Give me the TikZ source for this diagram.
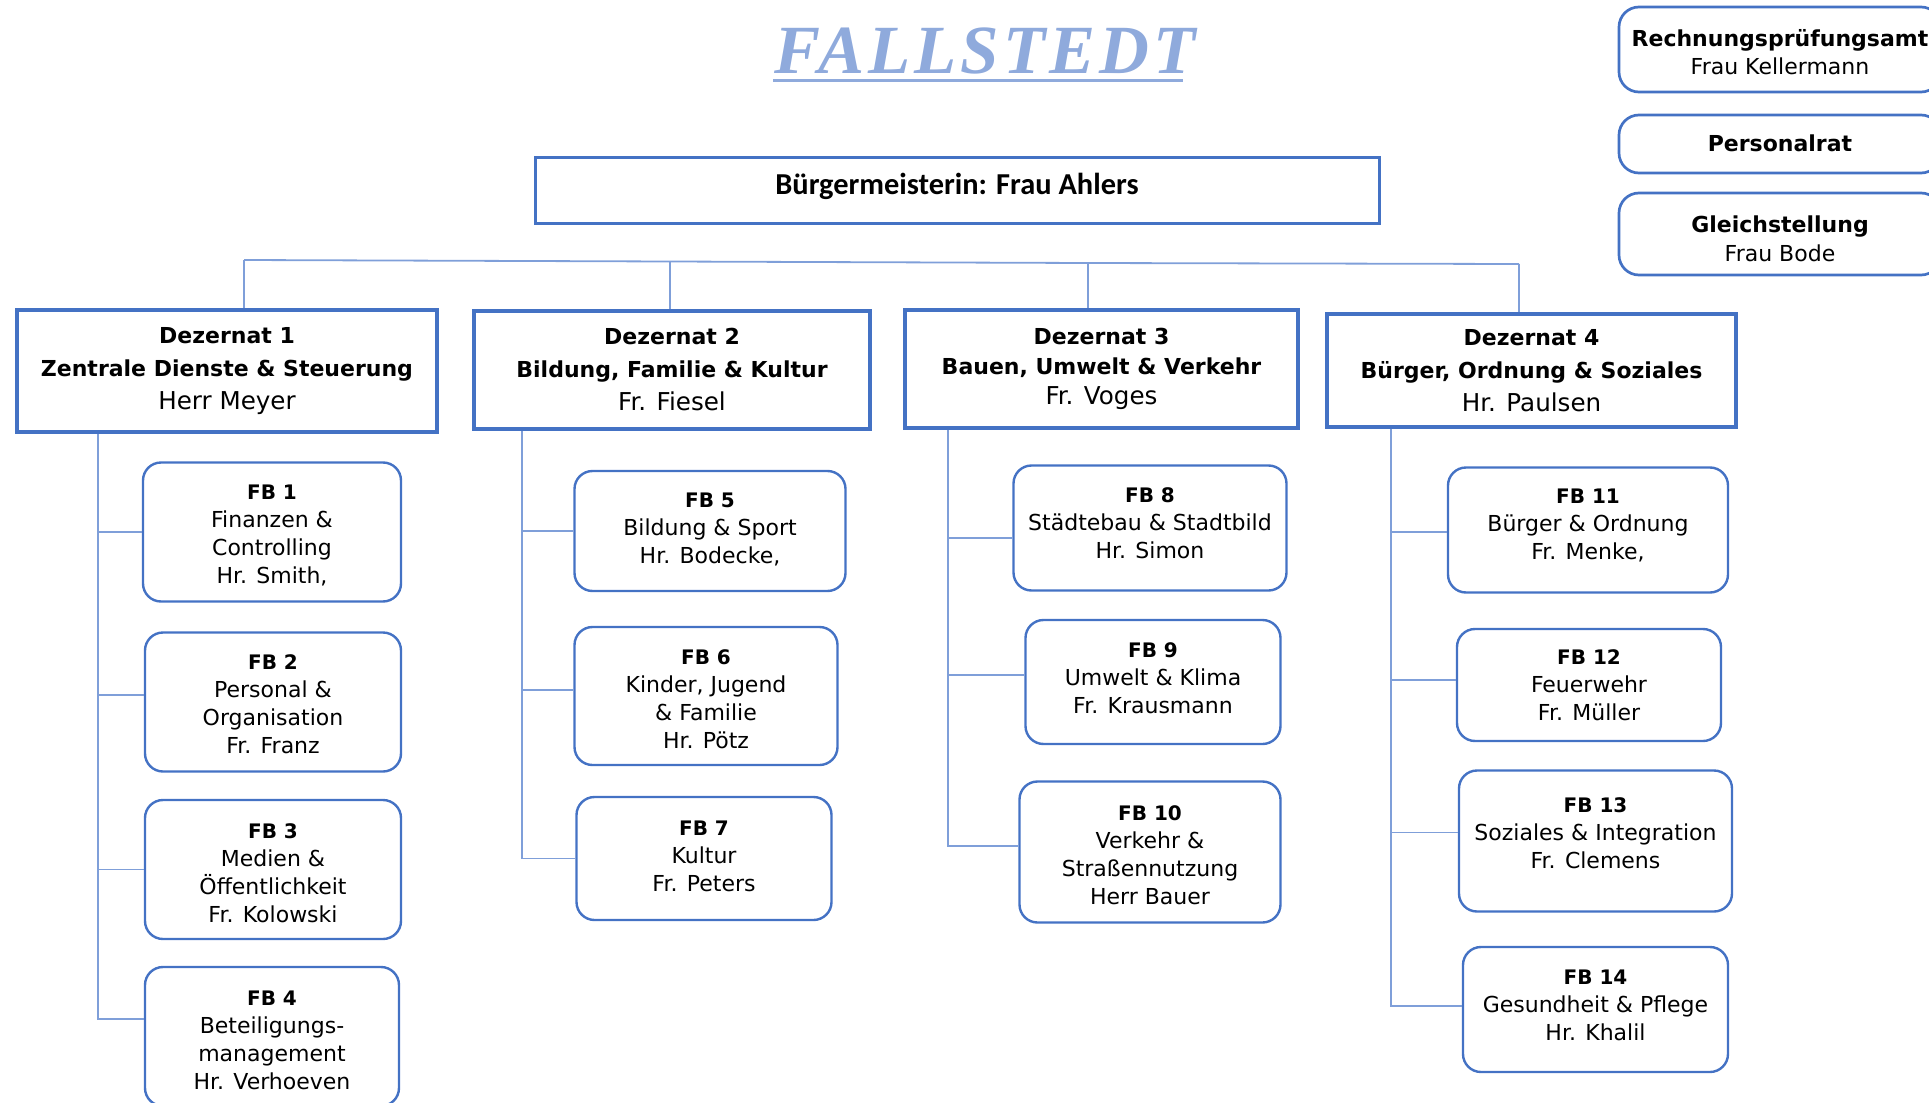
\documentclass[tikz,border=0pt]{standalone}
\usepackage{fontspec}
\setmainfont{DejaVu Sans}
\newfontfamily\calibfont{Carlito}
\newfontfamily\titlefont[LetterSpace=6]{Liberation Serif}
\usetikzlibrary{calc}
\definecolor{boxblue}{HTML}{4472C4}
\definecolor{lineblue}{HTML}{7F9FD9}
\definecolor{titleblue}{HTML}{8FAADC}
\begin{document}
\begin{tikzpicture}[x=0.5pt,y=-0.5pt,
  sz/.style 2 args={minimum width=#1*0.5pt,minimum height=#2*0.5pt},
  dezbox/.style={draw=boxblue,line width=1.75pt,rectangle,align=center,inner sep=0pt,font=\fontsize{11}{16.5}\selectfont},
  fbbox/.style={draw=boxblue,line width=1.2pt,rounded corners=9pt,inner sep=0pt},
  fbtext/.style={align=center,inner sep=0pt,font=\fontsize{11}{14}\selectfont},
  sidebox/.style={draw=boxblue,line width=1.35pt,rounded corners=10pt,inner sep=0pt},
  sidetext/.style={align=center,inner sep=0pt,font=\fontsize{11}{14}\selectfont},
  conn/.style={draw=lineblue,line width=0.9pt},
]
\useasboundingbox (0,0) rectangle (1929,1103);
\newcommand{\fbtitle}[1]{{\fontsize{10}{14}\selectfont\bfseries #1}}
\newcommand{\dname}[1]{{\fontsize{12.3}{16.5}\selectfont #1}}

% title
\node[font=\titlefont\bfseries\itshape\fontsize{34.5}{40}\selectfont,text=titleblue,anchor=base,inner sep=0pt] (title) at (985,73) {FALLSTEDT};
\coordinate (ul1) at (773,80);
\coordinate (ul2) at (1183,80);
\draw[titleblue,line width=1.5pt] (ul1) -- (ul2);

% mayor
\node[draw=boxblue,line width=1.5pt,sz={844}{66},inner sep=0pt] (mayor) at (957,190) {};
\node[inner sep=0pt,font=\calibfont\bfseries\fontsize{15.2}{18}\selectfont] (mayort) at ($(mayor.center)+(0,-3.7)$) {Bürgermeisterin: Frau Ahlers};

% side boxes
\node[sidebox,sz={322}{85}] (rpa) at (1780,49.5) {};
\node[sidetext] (rpat) at ($(rpa.center)+(0,2.5)$) {{\bfseries Rechnungsprüfungsamt}\\Frau Kellermann};
\node[sidebox,sz={322}{58}] (prat) at (1780,144) {};
\node[sidetext] (pratt) at ($(prat.center)+(0,-1.2)$) {\bfseries Personalrat};
\node[sidebox,sz={322}{82}] (gleich) at (1780,234) {};
\node[sidetext,font=\fontsize{11}{14.3}\selectfont] (gleicht) at ($(gleich.center)+(0,5)$) {{\bfseries Gleichstellung}\\Frau Bode};

% Dezernate
\node[dezbox,sz={420}{122}] (d1) at (227,371) {\bfseries Dezernat 1\\\bfseries Zentrale Dienste \& Steuerung\\\dname{Herr Meyer}};
\node[dezbox,sz={396}{118}] (d2) at (672,370) {\bfseries Dezernat 2\\\bfseries Bildung, Familie \& Kultur\\\dname{Fr. Fiesel}};
\node[dezbox,sz={393}{118},font=\fontsize{11}{15}\selectfont] (d3) at (1101.5,369) {\bfseries Dezernat 3\\\bfseries Bauen, Umwelt \& Verkehr\\\dname{Fr. Voges}};
\node[dezbox,sz={409}{113}] (d4) at (1531.5,370.5) {\bfseries Dezernat 4\\\bfseries Bürger, Ordnung \& Soziales\\\dname{Hr. Paulsen}};

% bar
\coordinate (b1) at (244,260);
\coordinate (b2) at (670,261.5);
\coordinate (b3) at (1088,263);
\coordinate (b4) at (1519,264);
\draw[conn] (b1) -- (b2) -- (b3) -- (b4);
\draw[conn] (b1) -- (b1 |- d1.north);
\draw[conn] (b2) -- (b2 |- d2.north);
\draw[conn] (b3) -- (b3 |- d3.north);
\draw[conn] (b4) -- (b4 |- d4.north);

% FB boxes: name/x/y/w/h
\foreach \n/\x/\y/\w/\h in {
  fb1/272/532/258/139, fb2/273/702/256/139, fb3/273/869.5/256/139, fb4/272/1036.5/254/139,
  fb5/710/531/271/120, fb6/706/696/263/138, fb7/704/858.5/255/123,
  fb8/1150/528/273/125, fb9/1153/682/255/124, fb10/1150/852/261/141,
  fb11/1588/530/280/125, fb12/1589/685/264/112, fb13/1595.5/841/273/141, fb14/1595.5/1009.5/265/125}
  \node[fbbox,sz={\w}{\h}] (\n) at (\x,\y) {};

\node[fbtext] (fb1t) at ($(fb1.center)+(0,3.7)$) {\fbtitle{FB 1}\\Finanzen \&\\Controlling\\Hr. Smith,};
\node[fbtext] (fb2t) at ($(fb2.center)+(0,2.5)$) {\fbtitle{FB 2}\\Personal \&\\Organisation\\Fr. Franz};
\node[fbtext] (fb3t) at ($(fb3.center)+(0,3.7)$) {\fbtitle{FB 3}\\Medien \&\\Öffentlichkeit\\Fr. Kolowski};
\node[fbtext] (fb4t) at ($(fb4.center)+(0,3.7)$) {\fbtitle{FB 4}\\Beteiligungs-\\management\\Hr. Verhoeven};
\node[fbtext] (fb5t) at ($(fb5.center)+(0,-1.2)$) {\fbtitle{FB 5}\\Bildung \& Sport\\Hr. Bodecke,};
\node[fbtext] (fb6t) at ($(fb6.center)+(0,3.7)$) {\fbtitle{FB 6}\\Kinder, Jugend\\\& Familie\\Hr. Pötz};
\node[fbtext] (fb7t) at ($(fb7.center)+(0,-2)$) {\fbtitle{FB 7}\\Kultur\\Fr. Peters};
\node[fbtext] (fb8t) at ($(fb8.center)+(0,-5)$) {\fbtitle{FB 8}\\Städtebau \& Stadtbild\\Hr. Simon};
\node[fbtext] (fb9t) at ($(fb9.center)+(0,-3.7)$) {\fbtitle{FB 9}\\Umwelt \& Klima\\Fr. Krausmann};
\node[fbtext] (fb10t) at ($(fb10.center)+(0,3.7)$) {\fbtitle{FB 10}\\Verkehr \&\\Straßennutzung\\Herr Bauer};
\node[fbtext] (fb11t) at ($(fb11.center)+(0,-4.5)$) {\fbtitle{FB 11}\\Bürger \& Ordnung\\Fr. Menke,};
\node[fbtext] (fb12t) at ($(fb12.center)+(0,0)$) {\fbtitle{FB 12}\\Feuerwehr\\Fr. Müller};
\node[fbtext] (fb13t) at ($(fb13.center)+(0,-7.4)$) {\fbtitle{FB 13}\\Soziales \& Integration\\Fr. Clemens};
\node[fbtext] (fb14t) at ($(fb14.center)+(0,-4.3)$) {\fbtitle{FB 14}\\Gesundheit \& Pflege\\Hr. Khalil};

% trunks and branches (shift in pt, positive = up)
\coordinate (t1) at (98,0);
\coordinate (t2) at (522,0);
\coordinate (t3) at (948,0);
\coordinate (t4) at (1391,0);
\foreach \f/\s in {fb1/0,fb2/3.7,fb3/0,fb4/8.6} \draw[conn] (d1.south -| t1) |- ([yshift=\s pt]\f.west);
\foreach \f/\s in {fb5/0,fb6/3,fb7/0} \draw[conn] (d2.south -| t2) |- ([yshift=\s pt]\f.west);
\foreach \f/\s in {fb8/-5,fb9/3.7,fb10/3} \draw[conn] (d3.south -| t3) |- ([yshift=\s pt]\f.west);
\foreach \f/\s in {fb11/-1,fb12/2.5,fb13/4.3,fb14/1.8} \draw[conn] (d4.south -| t4) |- ([yshift=\s pt]\f.west);
\end{tikzpicture}
\end{document}
